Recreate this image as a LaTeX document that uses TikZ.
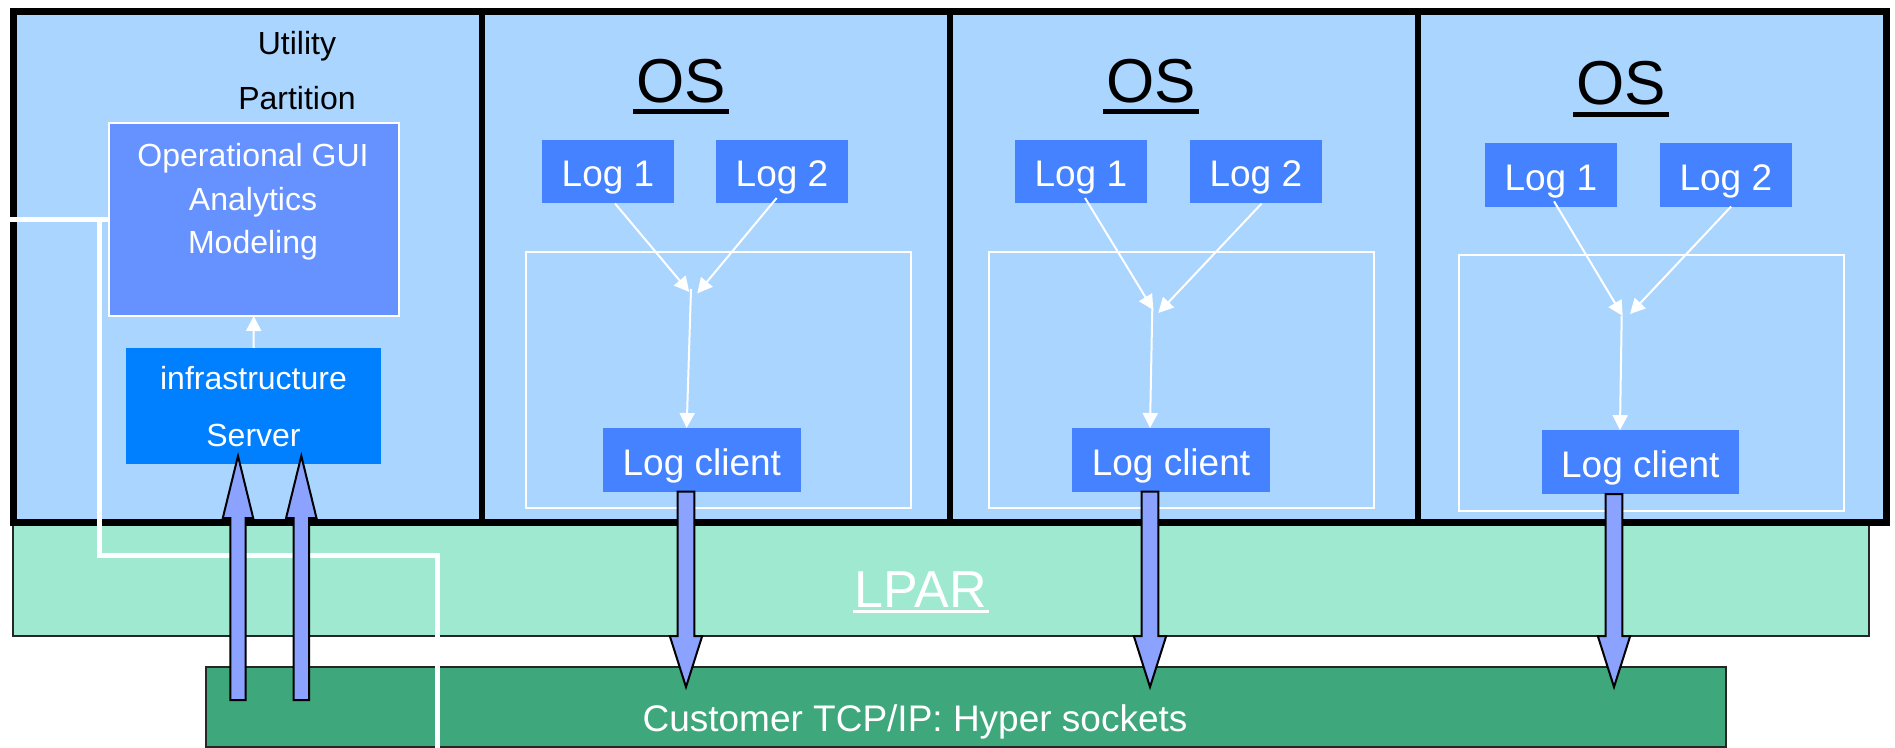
\documentclass[tikz,border=0pt]{standalone}
\usepackage{fontspec}
\setmainfont{Liberation Sans}
\usetikzlibrary{arrows.meta,calc,fit}
\definecolor{partbg}{RGB}{170,213,255}
\definecolor{lparfill}{RGB}{158,233,207}
\definecolor{hyperfill}{RGB}{62,167,123}
\definecolor{logfill}{RGB}{68,130,255}
\definecolor{guifill}{RGB}{102,146,255}
\definecolor{infrafill}{RGB}{0,128,255}
\definecolor{arrowfill}{RGB}{139,162,255}
\newcommand{\blockup}[2]{\draw[blockarrow] let \p1=(#1), \p2=(#2) in
  (\x1-3.85pt,\y1) -- (\x1-3.85pt,\y2-31pt) -- (\x1-7.6pt,\y2-31pt) -- (\x2,\y2) --
  (\x1+7.6pt,\y2-31pt) -- (\x1+3.85pt,\y2-31pt) -- (\x1+3.85pt,\y1) -- cycle;}
\newcommand{\blockdown}[2]{\draw[blockarrow] let \p1=(#1), \p2=(#2) in
  (\x1-4.15pt,\y1) -- (\x1-4.15pt,\y2+25.5pt) -- (\x1-8.1pt,\y2+25.5pt) -- (\x2,\y2) --
  (\x1+8.1pt,\y2+25.5pt) -- (\x1+4.15pt,\y2+25.5pt) -- (\x1+4.15pt,\y1) -- cycle;}
\begin{document}
\begin{tikzpicture}[x=0.5pt,y=-0.5pt,
  every node/.style={inner sep=0pt,outer sep=0pt},
  lbl/.style={anchor=base,font=\fontsize{16pt}{19pt}\selectfont},
  wlbl/.style={lbl,text=white},
  logbase/.style={fill=logfill,text=white,font=\fontsize{18.5pt}{22pt}\selectfont,text height=15.25pt,text depth=0pt},
  logbox/.style={logbase,minimum width=66pt,minimum height=31.75pt},
  clientbox/.style={logbase,minimum width=98.85pt,minimum height=31.85pt},
  ostitle/.style={anchor=base,font=\fontsize{31pt}{36pt}\selectfont,inner xsep=1.5pt},
  osline/.style={line width=2.5pt},
  wrect/.style={draw=white,line width=1pt},
  warrow/.style={draw=white,line width=1pt,-{Triangle[length=7.5pt,width=7.5pt]}},
  wline/.style={draw=white,line width=2.5pt},
  divider/.style={line width=2.75pt},
  blockarrow/.style={draw=black,line width=1pt,fill=arrowfill,line join=miter}
]
\useasboundingbox (0,0) rectangle (1895,748);

% LPAR band and Hyper sockets band
\node[draw=black!85,line width=1pt,fill=lparfill,fit={(13,522) (1869,636)}] (lpar) {};
\node[anchor=base,text=white,font=\fontsize{26pt}{30pt}\selectfont,inner xsep=1pt] (lpartext) at (920.7,607) {LPAR};
\draw[white,line width=1.5pt] ([yshift=-2.25pt]lpartext.base west) -- ([yshift=-2.25pt]lpartext.base east);
\node[draw=black!85,line width=1pt,fill=hyperfill,fit={(205.5,667) (1726,746.5)}] (hyper) {};
\node[anchor=base,text=white,font=\fontsize{18.5pt}{22pt}\selectfont] (hypertext) at (915,731) {Customer TCP/IP: Hyper sockets};

% partition frame
\node[draw=black,line width=3.5pt,fill=partbg,fit={(13.7,11.5) (1886,522)}] (frame) {};
\draw[divider] (482,11.5) -- (482,522);
\draw[divider] (950,11.5) -- (950,522);
\draw[divider] (1418,11.5) -- (1418,522);

% utility partition
\node[lbl] (util1) at (297,54.4) {Utility};
\node[lbl] (util2) at (297,110) {Partition};
\node[draw=white,line width=1.2pt,fill=guifill,fit={(109,123) (399,316)}] (gui) {};
\node[wlbl] (gui1) at (253,166.3) {Operational GUI};
\node[wlbl] (gui2) at (253,210.7) {Analytics};
\node[wlbl] (gui3) at (253,254) {Modeling};
\node[fill=infrafill,fit={(126,348) (381,464)}] (infra) {};
\node[wlbl] (infra1) at (253.5,389.8) {infrastructure};
\node[wlbl] (infra2) at (253.5,446) {Server};
\draw[warrow] (infra) -- (gui);

% column 1
\node[ostitle] (os1) at (681,102.6) {OS};
\draw[osline] ([yshift=-4.7pt]os1.base west) -- ([yshift=-4.7pt]os1.base east);
\draw[wrect] (525.7,252) rectangle (910.7,508);
\node[logbox] (l11) at (608,171.75) {Log 1};
\node[logbox] (l12) at (782,171.75) {Log 2};
\node[clientbox] (lc1) at (701.85,459.85) {Log client};
\coordinate (j11) at (689.3,292);
\coordinate (j12) at (697.3,293.4);
\coordinate (m1) at (691,289);
\draw[warrow] ([xshift=3.5pt]l11.south) -- (j11);
\draw[warrow] ([xshift=-2.65pt,yshift=2.75pt]l12.south) -- (j12);
\draw[warrow] (m1) -- ([xshift=-7.6pt]lc1.north);

% column 2
\node[ostitle] (os2) at (1151,102.6) {OS};
\draw[osline] ([yshift=-4.7pt]os2.base west) -- ([yshift=-4.7pt]os2.base east);
\draw[wrect] (989.3,252) rectangle (1374.3,508);
\node[logbox] (l21) at (1080.85,171.75) {Log 1};
\node[logbox] (l22) at (1255.85,171.75) {Log 2};
\node[clientbox] (lc2) at (1171,459.85) {Log client};
\coordinate (j21) at (1153.3,310);
\coordinate (j22) at (1158.3,313);
\coordinate (m2) at (1152.3,308);
\draw[warrow] ([xshift=2.1pt,yshift=2.75pt]l21.south) -- (j21);
\draw[warrow] ([xshift=2.9pt]l22.south) -- (j22);
\draw[warrow] (m2) -- ([xshift=-10.5pt]lc2.north);

% column 3
\node[ostitle] (os3) at (1621,105) {OS};
\draw[osline] ([yshift=-4.7pt]os3.base west) -- ([yshift=-4.7pt]os3.base east);
\draw[wrect] (1459,254.8) rectangle (1844,510.7);
\node[logbox] (l31) at (1550.85,174.8) {Log 1};
\node[logbox] (l32) at (1725.85,174.8) {Log 2};
\node[clientbox] (lc3) at (1640.35,462) {Log client};
\coordinate (j31) at (1622.7,316);
\coordinate (j32) at (1630,314);
\coordinate (m3) at (1621.7,316);
\draw[warrow] ([xshift=1.6pt,yshift=2.6pt]l31.south) -- (j31);
\draw[warrow] ([xshift=2.6pt]l32.south) -- (j32);
\draw[warrow] (m3) -- ([xshift=-10.2pt]lc3.north);

% white connection line
\coordinate (w0) at (10,219.5);
\coordinate (w1) at (99.5,219.5);
\coordinate (w2) at (99.5,555.5);
\coordinate (w3) at (437.5,555.5);
\coordinate (w4) at (437.5,748);
\draw[wline] (w0) -- (gui.west);
\draw[wline] (w1) -- (w2) -- (w3) -- (w4);

% block arrows
\coordinate (u1s) at (238,700);   \coordinate (u1t) at (238,456);
\coordinate (u2s) at (301.3,700); \coordinate (u2t) at (301.3,456);
\blockup{u1s}{u1t}
\blockup{u2s}{u2t}
\coordinate (d1s) at (686,491.7);  \coordinate (d1t) at (686,687);
\coordinate (d2s) at (1150,491.7); \coordinate (d2t) at (1150,687);
\coordinate (d3s) at (1614,494);   \coordinate (d3t) at (1614,687);
\blockdown{d1s}{d1t}
\blockdown{d2s}{d2t}
\blockdown{d3s}{d3t}
\end{tikzpicture}
\end{document}
